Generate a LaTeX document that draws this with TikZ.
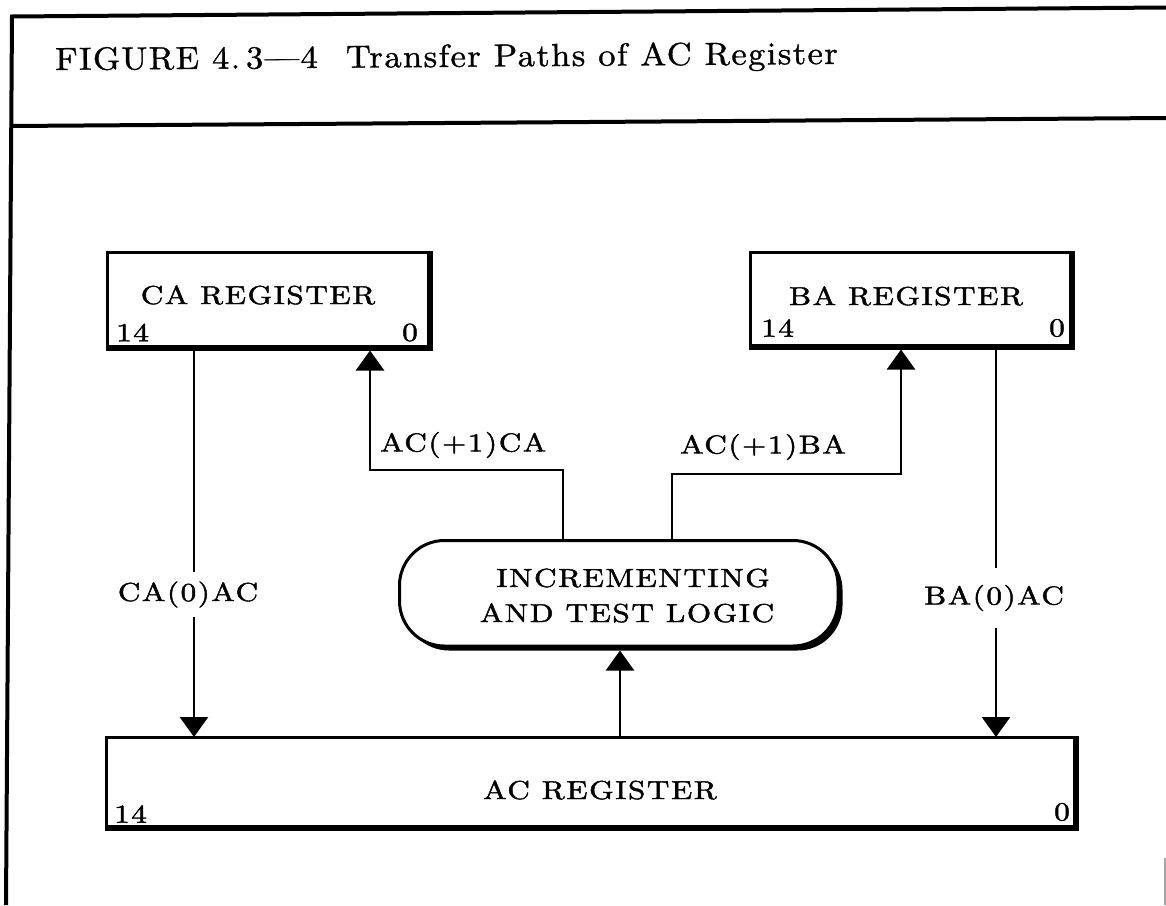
\documentclass[tikz,border=0pt]{standalone}
\usepackage{fontspec}
\usepackage{graphicx}
\newfontfamily\labelfont{lmroman10-regular.otf}[FakeBold=1.5,LetterSpace=5]
\newfontfamily\headfont{lmroman10-regular.otf}[FakeBold=1,LetterSpace=4]
\newcommand\widetext[1]{\scalebox{1.2}[1]{#1}}
\newcommand\widehead[1]{\scalebox{1.08}[1]{#1}}
\usetikzlibrary{arrows.meta,calc,shadows}

\begin{document}
\begin{tikzpicture}[x=1pt,y=-1pt,
  txt/.style={font=\labelfont\fontsize{26}{30}\selectfont, inner sep=0pt},
  regbox/.style={draw, line width=3pt, outer sep=0pt, inner sep=0pt},
  wire/.style={line width=2.7pt, line join=miter},
  arr/.style={wire, -{Triangle[length=20pt,width=28pt]}},
  shade/.style={line width=6pt}]
\useasboundingbox (0,0) rectangle (1166,905);

% page frame and title rule
\draw[line width=4pt] (6,905) -- (12,16.5) -- (1166,7.5);
\draw[line width=4pt] (11,126) -- (1166,118);
\draw[gray!70, line width=1.2pt] (1165,858) -- (1165,905);

\node[anchor=base west, font=\headfont\fontsize{32}{36}\selectfont, inner sep=0pt, rotate=0.45]
  (title) at (55,70) {\widehead{FIGURE 4.\,3—4\hspace{26pt}Transfer Paths of AC Register}};

% registers
\node[regbox, minimum width=321pt, minimum height=94pt] (ca) at (267.5,299) {};
\node[regbox, minimum width=320pt, minimum height=93pt] (ba) at (910,298.5) {};
\node[regbox, minimum width=968pt, minimum height=89pt] (ac) at (590,781.5) {};
\node[regbox, fill=white, rounded corners=45pt, minimum width=438.5pt, minimum height=105.5pt,
      drop shadow={shadow xshift=4.5pt, shadow yshift=-4.5pt, fill=black, opacity=1}]
  (pill) at (618.75,593.25) {};

% heavy lower and right edges
\draw[shade] ($(ca.north east)+(1.5,-1.5)$) -- ($(ca.south east)+(1.5,1.5)$) -- ($(ca.south west)+(-1.5,1.5)$);
\draw[shade] ($(ba.north east)+(1.5,-1.5)$) -- ($(ba.south east)+(1.5,1.5)$) -- ($(ba.south west)+(-1.5,1.5)$);
\draw[shade] ($(ac.north east)+(1.5,-1.5)$) -- ($(ac.south east)+(1.5,1.5)$) -- ($(ac.south west)+(-1.5,1.5)$);

% register texts and bit numbers
\node[txt] (catext) at (258,295) {\widetext{CA REGISTER}};
\node[txt, anchor=west] (calo) at (116,332.5) {\widetext{14}};
\node[txt, anchor=east] (cahi) at (418,332.5) {\widetext{0}};

\node[txt] (batext) at (906,296) {\widetext{BA REGISTER}};
\node[txt, anchor=west] (balo) at (761,328) {\widetext{14}};
\node[txt, anchor=east] (bahi) at (1065,328) {\widetext{0}};

\node[txt] (actext) at (600,790) {\widetext{AC REGISTER}};
\node[txt, anchor=west] (aclo) at (114,814) {\widetext{14}};
\node[txt, anchor=east] (achi) at (1070,812) {\widetext{0}};

\node[txt] (inctext) at (633,578) {\widetext{INCREMENTING}};
\node[txt] (logtext) at (627,613) {\widetext{AND TEST LOGIC}};

% transfer paths
\coordinate (xca) at (194,0);
\coordinate (xba) at (996,0);
\coordinate (xpill) at (620,0);

\node[txt, minimum height=45pt] (lca) at (188,594.5) {\widetext{CA(0)AC}};
\draw[wire] (ca.south -| xca) -- (lca.north -| xca);
\draw[arr] (lca.south -| xca) -- (ac.north -| xca);

\node[txt, minimum height=60pt] (lba) at (994,598) {\widetext{BA(0)AC}};
\draw[wire] (ba.south -| xba) -- (lba.north -| xba);
\draw[arr] (lba.south -| xba) -- (ac.north -| xba);

\draw[arr] (ac.north -| xpill) -- ($(pill.south -| xpill)+(0,4.5)$);

\coordinate (lc1) at (563,470);
\coordinate (lc2) at (370,470);
\draw[arr] (pill.north -| lc1) -- (lc1) -- (lc2) -- ($(ca.south -| lc2)+(0,4.5)$);
\node[txt, anchor=west] (lacca) at (380,445) {\widetext{AC(+1)CA}};

\coordinate (rc1) at (672,474);
\coordinate (rc2) at (901,474);
\draw[arr] (pill.north -| rc1) -- (rc1) -- (rc2) -- ($(ba.south -| rc2)+(0,4.5)$);
\node[txt, anchor=west] (lacba) at (680,447) {\widetext{AC(+1)BA}};
\end{tikzpicture}
\end{document}
